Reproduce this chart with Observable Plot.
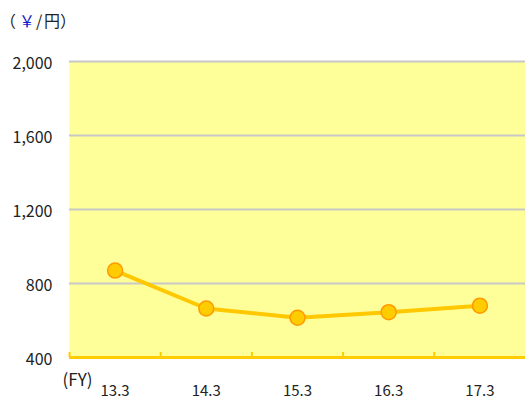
<!DOCTYPE html>
<html>
<head>
<meta charset="utf-8">
<script src="https://cdn.jsdelivr.net/npm/d3@7"></script>
<script src="https://cdn.jsdelivr.net/npm/@observablehq/plot@0.6"></script>
<style>
  html, body { margin: 0; padding: 0; background: #fff; }
  #wrap { position: relative; width: 525px; height: 401px; overflow: hidden; }
  #title { position: absolute; left: 0; top: 10px; width: 90px; height: 22px; font-family: "Noto Sans CJK JP", sans-serif; font-size: 16px; color: #222; line-height: 20px; }
  #title span { position: absolute; top: 0; white-space: nowrap; }
  #title .yen { color: #1a1acc; }
</style>
</head>
<body>
<div id="wrap">
  <div id="chart"></div>
  <div id="title"><span style="left:0px">（</span><span class="yen" style="left:19px">￥</span><span style="left:36px">/</span><span style="left:44px">円</span><span style="left:60px">）</span></div>
</div>
<script>
const categories = ["13.3", "14.3", "15.3", "16.3", "17.3"];
const values = [870, 665, 615, 645, 680];
const yTicks = [400, 800, 1200, 1600, 2000];
const gridTicks = [800, 1200, 1600, 2000];
const xUnitLabel = "(FY)";

const data = categories.map((c, i) => ({i, c, v: values[i]}));
const boundaries = categories.map((c, i) => i - 0.5);
const fmt = d3.format(",");

const chart = Plot.plot({
  width: 525,
  height: 401,
  marginTop: 61,
  marginBottom: 44,
  marginLeft: 69,
  marginRight: 0,
  style: {fontFamily: "'Noto Sans CJK JP', sans-serif", color: "#222", background: "#fff", overflow: "visible"},
  x: {type: "linear", domain: [-0.5, 4.5], axis: null},
  y: {type: "linear", domain: [400, 2000], axis: null},
  marks: [
    Plot.frame({fill: "#FFFF99", stroke: null}),
    Plot.ruleY(gridTicks, {stroke: "#c8c8c8", strokeWidth: 2}),
    Plot.ruleY([400], {stroke: "#FFCC00", strokeWidth: 3}),
    Plot.ruleX(boundaries, {y1: 400, y2: 400, insetTop: -5, stroke: "#FFCC00", strokeWidth: 2}),
    Plot.text(yTicks, {x: -0.5, y: d => d, text: d => fmt(d), textAnchor: "end", dx: -17, dy: 2, fontSize: 16, fill: "#222"}),
    Plot.text(data, {x: "i", y: 400, text: "c", dy: 34, fontSize: 15, fill: "#222"}),
    Plot.text([xUnitLabel], {x: -0.5, y: 400, text: d => d, textAnchor: "start", dx: -7, dy: 23, fontSize: 17, fill: "#222"}),
    Plot.line(data, {x: "i", y: "v", stroke: "#FFC800", strokeWidth: 4}),
    Plot.dot(data, {x: "i", y: "v", r: 7.5, fill: "#FFCC00", stroke: "#FF9900", strokeWidth: 1.5})
  ]
});
document.getElementById("chart").appendChild(chart);
</script>
</body>
</html>
